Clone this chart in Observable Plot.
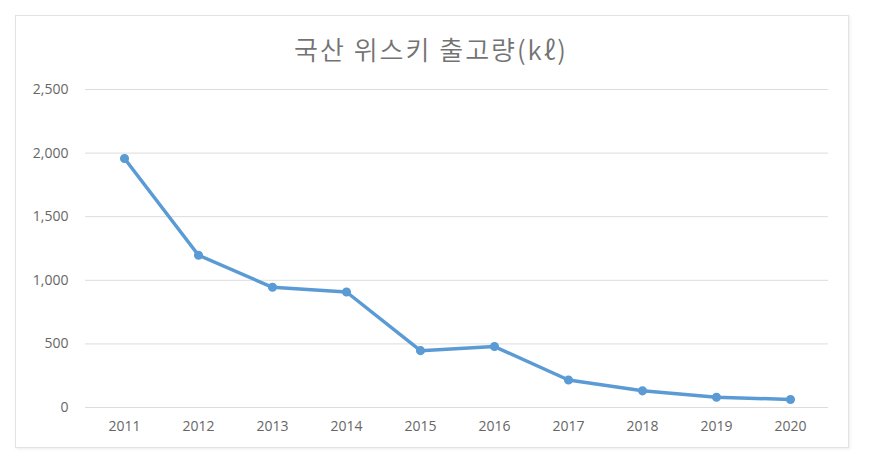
<!DOCTYPE html>
<html>
<head>
<meta charset="utf-8">
<script src="https://cdn.jsdelivr.net/npm/d3@7"></script>
<script src="https://cdn.jsdelivr.net/npm/@observablehq/plot@0.6"></script>
<style>
  html, body { margin: 0; padding: 0; background: #fff; }
  #wrap { position: relative; width: 878px; height: 462px; overflow: hidden; }
  #card { position: absolute; left: 15px; top: 15px; width: 832px; height: 431px;
          border: 1px solid #e3e3e3; box-shadow: 1px 1px 3px rgba(0,0,0,0.08); background: #fff; }
  #title { position: absolute; left: 15px; width: 832px; top: 31px; text-align: center;
           font-family: "Noto Sans CJK KR", sans-serif; font-weight: 350; font-size: 26px;
           letter-spacing: 2px; color: #737373; line-height: 36px; }
  #chart { position: absolute; left: 0; top: 0; }
  #chart svg { background: transparent !important; }
</style>
</head>
<body>
<div id="wrap">
  <div id="card"></div>
  <div id="title">국산 위스키 출고량(kℓ)</div>
  <div id="chart"></div>
</div>
<script>
const years = ["2011","2012","2013","2014","2015","2016","2017","2018","2019","2020"];
const volumes = [1958, 1197, 945, 908, 447, 479, 216, 131, 81, 63];
const yTicks = [0, 500, 1000, 1500, 2000, 2500];

const data = years.map((y, i) => ({year: y, value: volumes[i]}));
const lineColor = "#5b9bd5";

const chart = Plot.plot({
  width: 878,
  height: 462,
  marginLeft: 85,
  marginRight: 50,
  marginTop: 89,
  marginBottom: 55,
  style: {fontFamily: "'Open Sans', sans-serif", fontSize: "14px", color: "#666", background: "transparent"},
  x: {type: "point", domain: years, padding: 0.5, label: null},
  y: {domain: [0, 2500], label: null},
  marks: [
    Plot.ruleY(yTicks, {stroke: "#dcdcdc", strokeWidth: 1}),
    Plot.axisY({ticks: yTicks, tickFormat: d3.format(","), tickSize: 0, tickPadding: 17, label: null, fill: "#666"}),
    Plot.axisX({tickSize: 0, tickPadding: 14, label: null, fill: "#666"}),
    Plot.line(data, {x: "year", y: "value", stroke: lineColor, strokeWidth: 3.5, strokeLinejoin: "round"}),
    Plot.dot(data, {x: "year", y: "value", r: 3.8, fill: lineColor, stroke: lineColor})
  ]
});
document.getElementById("chart").appendChild(chart);
</script>
</body>
</html>
